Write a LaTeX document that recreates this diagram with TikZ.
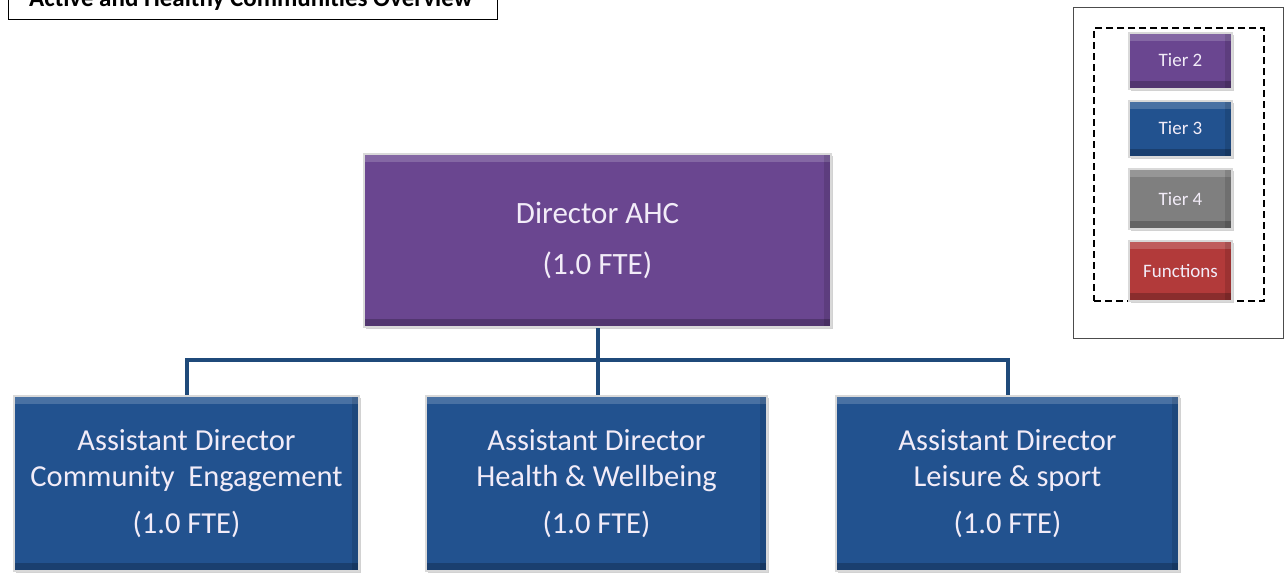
\documentclass[tikz,border=0pt]{standalone}
\usepackage{fontspec}
\setmainfont{Carlito}
\usetikzlibrary{shadows}
\definecolor{purp}{HTML}{6A4690}
\definecolor{blu}{HTML}{22528F}
\definecolor{gry}{HTML}{7F7F7F}
\definecolor{rd}{HTML}{B23A3A}
\definecolor{linec}{HTML}{1F4A7A}
\definecolor{txt}{HTML}{F2ECF8}
\tikzset{
  tbox/.style={draw=black!15, line width=2.5pt, text=txt, align=center, inner sep=0pt,
    drop shadow={shadow xshift=2pt, shadow yshift=-2pt, opacity=0.35},
    path picture={
      \fill[white, opacity=0.18] (path picture bounding box.north west) rectangle ([yshift=-8pt]path picture bounding box.north east);
      \fill[black, opacity=0.22] (path picture bounding box.south west) rectangle ([yshift=8pt]path picture bounding box.south east);
      \fill[black, opacity=0.12] (path picture bounding box.south east) rectangle ([xshift=-7pt]path picture bounding box.north east);
    }},
  conn/.style={draw=linec, line width=4pt},
  legbox/.style={tbox, minimum width=103pt, line width=2pt, font=\fontsize{19}{22}\selectfont}
}
\begin{document}
\begin{tikzpicture}[x=1pt,y=-1pt]
\useasboundingbox (0,0) rectangle (1287,584);
\clip (0,0) rectangle (1287,584);
\fill[white] (0,0) rectangle (1287,584);
% title
\node[draw=black, line width=1.2pt, minimum width=489pt, minimum height=40pt, anchor=south west, inner sep=0pt] (title) at (8,20) {};
\node[anchor=base west, font=\bfseries\fontsize{25}{28}\selectfont, inner sep=0pt] (titletext) at (29,6) {Active and Healthy Communities Overview};
% legend
\node[draw=black!70, line width=1pt, minimum width=210pt, minimum height=331pt, anchor=north west, inner sep=0pt] (legend) at (1073,7) {};
\node[draw=black, dashed, line width=2.2pt, dash pattern=on 7pt off 4pt, minimum width=170pt, minimum height=273pt, anchor=north west, inner sep=0pt] (dash) at (1093,27) {};
\node[legbox, fill=purp, minimum height=56pt] (l2) at (1180.5,60.5) {Tier 2};
\node[legbox, fill=blu, minimum height=56pt] (l3) at (1180.5,128.5) {Tier 3};
\node[legbox, fill=gry, minimum height=60pt] (l4) at (1180.5,199) {Tier 4};
\node[legbox, fill=rd, minimum height=60pt] (l5) at (1180.5,271) {Functions};
% director
\node[tbox, fill=purp, minimum width=467pt, minimum height=173pt, font=\fontsize{31}{51}\selectfont] (dir) at (597.5,240.5) {Director AHC\\(1.0 FTE)};
% assistants
\tikzset{adbox/.style={tbox, fill=blu, minimum height=175pt, font=\fontsize{30.5}{36}\selectfont}}
\node[adbox, minimum width=345pt] (ad1) at (186.5,483.5) {Assistant Director\\Community\ \ Engagement\\[11pt](1.0 FTE)};
\node[adbox, minimum width=341pt] (ad2) at (596.5,483.5) {Assistant Director\\Health \& Wellbeing\\[11pt](1.0 FTE)};
\node[adbox, minimum width=343pt] (ad3) at (1007.5,483.5) {Assistant Director\\Leisure \& sport\\[11pt](1.0 FTE)};
% connectors
\coordinate (j) at (597.5,360);
\draw[conn] (dir.south) -- (j);
\draw[conn] (j) -| (ad1.north);
\draw[conn] (j) -| (ad3.north);
\draw[conn] (j) -- (j |- ad2.north);
\end{tikzpicture}
\end{document}
